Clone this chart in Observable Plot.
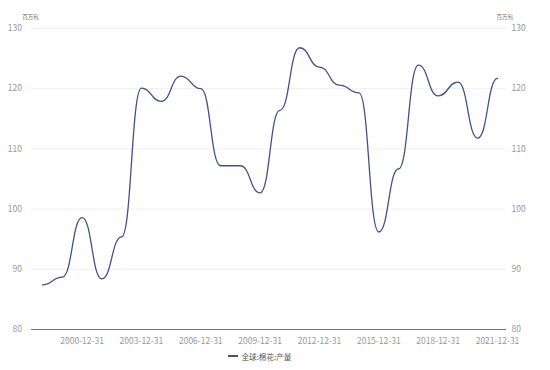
<!DOCTYPE html>
<html><head><meta charset="utf-8">
<script src="https://cdn.jsdelivr.net/npm/d3@7"></script>
<script src="https://cdn.jsdelivr.net/npm/@observablehq/plot@0.6"></script>
<style>
body{margin:0;background:#fff;font-family:"Noto Sans CJK SC","Noto Sans",sans-serif;}
#wrap{position:relative;width:550px;height:370px;}
#legend{position:absolute;left:228px;top:350px;height:12px;display:flex;align-items:center;font-size:7.6px;color:#555;white-space:nowrap;}
#legend .sw{display:inline-block;width:10px;height:2px;background:#45508a;margin-right:3.5px;}
</style></head><body>
<div id="wrap"><div id="chart"></div><div id="legend"><span class="sw"></span><span id="legtext"></span></div></div>
<script>
const dates = ["1998-12-31","1999-12-31","2000-12-31","2001-12-31","2002-12-31","2003-12-31","2004-12-31","2005-12-31","2006-12-31","2007-12-31","2008-12-31","2009-12-31","2010-12-31","2011-12-31","2012-12-31","2013-12-31","2014-12-31","2015-12-31","2016-12-31","2017-12-31","2018-12-31","2019-12-31","2020-12-31","2021-12-31"];
const values = [87.4,88.7,98.6,88.4,95.4,120.1,117.9,122.1,120.0,107.2,107.2,102.7,116.4,126.8,123.6,120.6,119.3,96.2,106.7,123.9,118.8,121.1,111.8,121.7];
const xTickLabels = ["2000-12-31","2003-12-31","2006-12-31","2009-12-31","2012-12-31","2015-12-31","2018-12-31","2021-12-31"];
const yTicks = [80,90,100,110,120,130];
const unit = "百万包";
const seriesName = "全球:棉花:产量";

const data = dates.map((d, i) => ({date: new Date(d), value: values[i]}));
const font = '"Noto Sans CJK SC","Noto Sans",sans-serif';

const chart = Plot.plot({
  width: 550, height: 348,
  marginTop: 28, marginBottom: 19, marginLeft: 31, marginRight: 44,
  x: {type: "utc", insetLeft: 11, insetRight: 9},
  y: {domain: [80, 130]},
  style: {fontFamily: font, fontSize: "8.5px", color: "#999", background: "#fff"},
  marks: [
    Plot.ruleY(yTicks.filter(v => v > 80), {stroke: "#efefef", strokeWidth: 1}),
    Plot.axisY({anchor: "left", ticks: yTicks, tickSize: 0, tickPadding: 9.5, label: null, fill: "#999"}),
    Plot.axisY({anchor: "right", ticks: yTicks, tickSize: 0, tickPadding: 5, label: null, fill: "#999"}),
    Plot.axisX({ticks: xTickLabels.map(d => new Date(d)), tickFormat: d3.utcFormat("%Y-%m-%d"), tickSize: 0, tickPadding: 8, label: null, fill: "#999"}),
    Plot.ruleY([80], {stroke: "#6e7079", strokeWidth: 1}),
    Plot.line(data, {x: "date", y: "value", curve: "bump-x", stroke: "#45508a", strokeWidth: 1.3}),
    Plot.text([unit], {frameAnchor: "top-left", dx: -9.3, dy: -11.3, textAnchor: "start", lineAnchor: "middle", fontSize: 5.5, fill: "#666"}),
    Plot.text([unit], {frameAnchor: "top-right", dx: -10, dy: -11.3, textAnchor: "start", lineAnchor: "middle", fontSize: 5.5, fill: "#666"})
  ]
});
document.getElementById("chart").append(chart);
document.getElementById("legtext").textContent = seriesName;
</script>
</body></html>
